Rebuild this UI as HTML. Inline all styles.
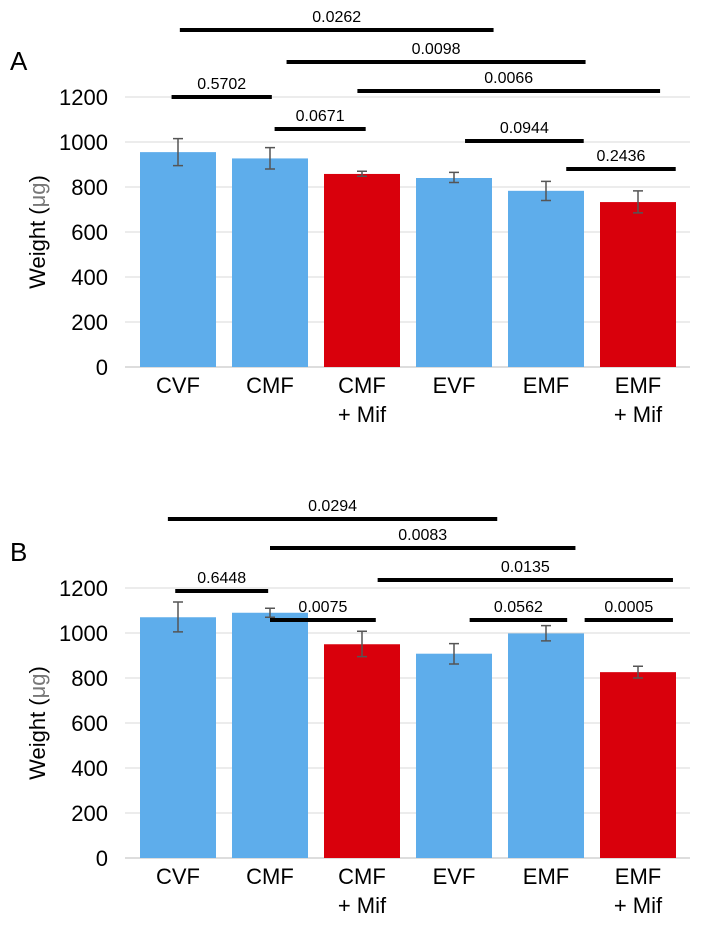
<!DOCTYPE html>
<html><head><meta charset="utf-8"><style>
body{margin:0;background:#fff;}
svg{display:block;font-family:"Liberation Sans",sans-serif;}
</style></head><body>
<svg id="chart" width="709" height="930"></svg>
<script>
const categories=["CVF","CMF","CMF\n+ Mif","EVF","EMF","EMF\n+ Mif"];
const colorsIdx=[0,0,1,0,0,1];
const ticks=[0,200,400,600,800,1000,1200];
const valuesA=[955,927,858,840,783,733];
const errLowA=[895,880,848,820,740,685];
const errHighA=[1015,975,870,865,825,783];
const valuesB=[1070,1090,950,908,998,826];
const errLowB=[1005,1070,895,862,965,800];
const errHighB=[1138,1110,1008,953,1033,852];
const sigLabelsA=["0.0262","0.0098","0.0066","0.5702","0.0671","0.0944","0.2436"];
const sigFromA=[0.02,1.18,1.95,-0.07,1.05,3.12,4.22];
const sigToA=[3.43,4.43,5.24,1.02,2.04,4.41,5.41];
const sigLevelA=[30,62,91,97,129,141,169];
const sigLabelsB=["0.0294","0.0083","0.0135","0.6448","0.0075","0.0562","0.0005"];
const sigFromB=[-0.11,1.0,2.17,-0.03,1.0,3.17,4.42];
const sigToB=[3.47,4.32,5.38,0.98,2.15,4.23,5.38];
const sigLevelB=[519,548,580,591,620,620,620];

const svg=document.getElementById('chart');
const NS="http://www.w3.org/2000/svg";
function mk(t,a,p){const e=document.createElementNS(NS,t);for(const k in a)e.setAttribute(k,a[k]);(p||svg).appendChild(e);return e;}
const fills=["#5eadeb","#d9000c"];
function panel(letter,y0,vals,lo,hi,labels,from,to,lvl,id){
  const g=mk('g',{});
  
  
  const yS=v=>y0-v*0.225;
  const xC=i=>178+i*92;
  ticks.forEach(t=>{
    const l=mk('line',{x1:125,x2:690,y1:yS(t),y2:yS(t),stroke:t===0?'#bbb':'#d9d9d9','stroke-width':1},g);
    
    const tx=mk('text',{x:108,y:yS(t)+8,'text-anchor':'end','font-size':22,fill:'#000'},g);
    tx.textContent=t;
    
  });
  vals.forEach((v,i)=>{
    const r=mk('rect',{x:xC(i)-38,y:yS(v),width:76,height:v*0.225,fill:fills[colorsIdx[i]]},g);
    
    const e=mk('path',{d:`M${xC(i)},${yS(lo[i])}V${yS(hi[i])}M${xC(i)-5},${yS(lo[i])}h10M${xC(i)-5},${yS(hi[i])}h10`,stroke:'#555','stroke-width':1.5,fill:'none'},g);
    
    const parts=categories[i].split('\n');
    parts.forEach((p,j)=>{
      const t=mk('text',{x:xC(i),y:y0+26+j*29,'text-anchor':'middle','font-size':22},g);
      t.textContent=p;
      
    });
  });
  labels.forEach((s,k)=>{
    const x1=xC(from[k]),x2=xC(to[k]);
    const l=mk('line',{x1:x1,x2:x2,y1:lvl[k],y2:lvl[k],stroke:'#000','stroke-width':4},g);
    
    const t=mk('text',{x:(x1+x2)/2,y:lvl[k]-8,'text-anchor':'middle','font-size':16},g);
    t.textContent=s;
    
  });
  const yt=mk('text',{transform:`translate(45,${y0-135}) rotate(-90)`,'text-anchor':'middle','font-size':22},g);
  yt.innerHTML='Weight (<tspan fill="#777">μg</tspan>)';
  
  const pl=mk('text',{x:10,y:y0-297,'font-size':26},g);
  pl.textContent=letter;
  
}
panel('A',367,valuesA,errLowA,errHighA,sigLabelsA,sigFromA,sigToA,sigLevelA,'a');
panel('B',858,valuesB,errLowB,errHighB,sigLabelsB,sigFromB,sigToB,sigLevelB,'b');
</script>
</body></html>
